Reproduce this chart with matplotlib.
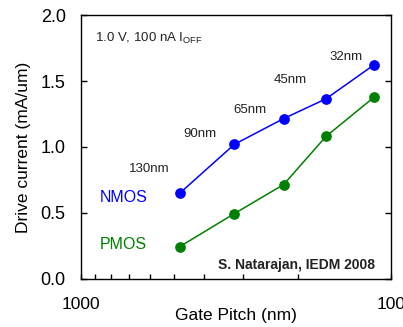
import matplotlib.pyplot as plt
from matplotlib.ticker import FixedLocator, NullFormatter, FixedFormatter

plt.rcParams['font.family'] = ['Liberation Sans', 'DejaVu Sans']

# gate pitch (nm) per node
pitch = [480, 320, 222, 162, 113]
nodes = ["130nm", "90nm", "65nm", "45nm", "32nm"]
nmos = [0.65, 1.02, 1.215, 1.365, 1.625]
pmos = [0.245, 0.495, 0.715, 1.08, 1.38]

# label positions (data coords)
node_x = [600, 414, 286, 211, 140]
node_y = [0.83, 1.10, 1.28, 1.51, 1.68]

blue = "#0000ff"
green = "#008000"

fig = plt.figure(figsize=(4.03, 3.27), dpi=100)
ax = fig.add_axes([0.201, 0.147, 0.769, 0.807])

ax.plot(pitch, nmos, "-o", color=blue, lw=1.1, ms=6.7)
ax.plot(pitch, pmos, "-o", color=green, lw=1.1, ms=6.7)

for x, y, t in zip(node_x, node_y, nodes):
    ax.text(x, y, t, ha="center", va="center", fontsize=9.5, color="#222222")

ax.text(870, 0.62, "NMOS", color=blue, fontsize=11.5, ha="left", va="center")
ax.text(870, 0.26, "PMOS", color=green, fontsize=11.5, ha="left", va="center")

ax.text(0.045, 0.91, r"1.0 V, 100 nA I$_{\mathregular{OFF}}$", transform=ax.transAxes,
        fontsize=9.5, ha="left", va="center", color="#222222")
ax.text(0.948, 0.038, "S. Natarajan, IEDM 2008", transform=ax.transAxes,
        fontsize=10, fontweight="bold", ha="right", va="baseline", color="#222222")

ax.set_xscale("log")
ax.set_xlim(1000, 100)
ax.set_ylim(0, 2.0)
ax.xaxis.set_major_locator(FixedLocator([1000, 100]))
ax.xaxis.set_major_formatter(FixedFormatter(["1000", "100"]))
ax.xaxis.set_minor_locator(FixedLocator([900, 800, 700, 600, 500, 400, 300, 200]))
ax.xaxis.set_minor_formatter(NullFormatter())
ax.set_yticks([0, 0.5, 1.0, 1.5, 2.0])
ax.set_yticklabels(["0.0", "0.5", "1.0", "1.5", "2.0"])

ax.tick_params(axis="y", which="major", direction="in", length=4.5, width=1,
               right=True, labelsize=13)
ax.tick_params(axis="y", which="major", pad=11)
ax.tick_params(axis="x", which="both", direction="in", length=3.5, width=1,
               labelsize=12.5, pad=13)

for s in ax.spines.values():
    s.set_linewidth(1)

ax.set_xlabel("Gate Pitch (nm)", fontsize=12.5, labelpad=-3)
ax.set_ylabel("Drive current (mA/um)", fontsize=12.5, labelpad=7)

fig.savefig("out.png", dpi=100)
